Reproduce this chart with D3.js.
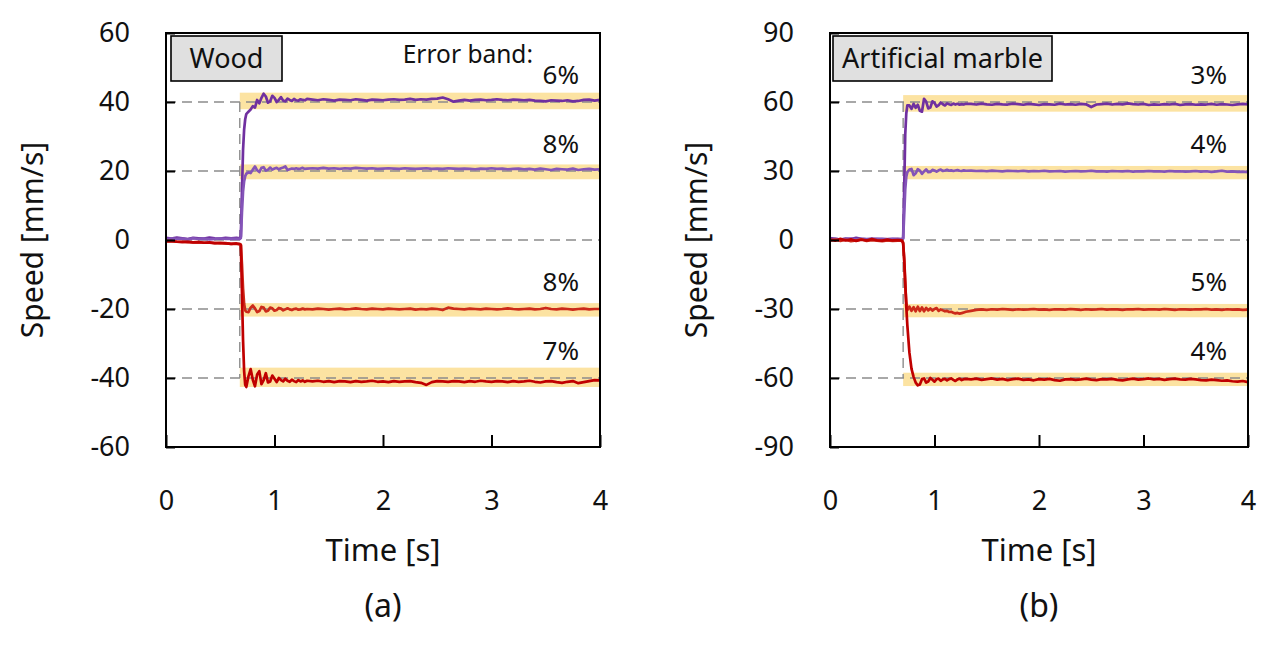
<!DOCTYPE html>
<html><head><meta charset="utf-8">
<script src="https://cdn.jsdelivr.net/npm/d3@7"></script>
<style>
html,body{margin:0;padding:0;background:#fff;}
svg{display:block;font-family:"Noto Sans","Open Sans",sans-serif;}
</style></head>
<body><svg id="chart" width="1280" height="651"></svg>
<script>
// ---------- DATA ----------
const time = [0,0.05,0.1,0.15,0.2,0.25,0.3,0.35,0.4,0.45,0.5,0.55,0.6,0.65,
  0.68,0.69,0.7,0.71,0.72,0.73,0.74,
  0.76,0.78,0.8,0.82,0.84,0.86,0.88,0.9,0.92,0.94,
  0.96,0.98,1,1.02,1.04,1.06,1.08,1.1,1.12,1.14,
  1.16,1.18,1.2,1.22,1.24,1.26,1.28,1.3,
  1.35,1.4,1.45,1.5,1.55,1.6,1.65,1.7,1.75,1.8,
  1.85,1.9,1.95,2,2.05,2.1,2.15,2.2,2.25,2.3,
  2.35,2.4,2.45,2.5,2.55,2.6,2.65,2.7,2.75,2.8,
  2.85,2.9,2.95,3,3.05,3.1,3.15,3.2,3.25,3.3,
  3.35,3.4,3.45,3.5,3.55,3.6,3.65,3.7,3.75,3.8,
  3.85,3.9,3.95,4];

// (a) Wood
const wood40 = [0.6,0.4,0.7,0.5,0.3,0.6,0.5,0.4,0.7,0.5,0.4,0.6,0.5,0.6,
  0.5,1.0,14,26,32,35,36.5,
  37.2,37.8,38.8,38.4,40.6,39.6,41.2,42.4,41.6,39.8,
  40.2,41.8,41.2,40.0,40.6,41.4,40.4,40.2,41.0,40.6,
  40.3,40.9,40.5,40.4,40.8,40.6,40.5,40.9,
  40.7,40.5,40.8,40.6,40.4,40.7,40.6,40.5,40.8,40.6,
  40.4,40.7,40.6,40.5,40.7,40.8,40.6,40.7,40.9,40.6,
  40.8,40.7,40.9,41.0,41.3,40.8,40.1,40.4,40.6,40.4,
  40.6,40.7,40.5,40.6,40.8,40.6,40.5,40.7,40.6,40.5,
  40.6,40.4,40.3,40.2,40.5,40.4,40.3,40.5,40.2,40.3,
  40.6,40.7,40.4,40.6];
const wood20 = [0.2,0.5,0.3,0.4,0.2,0.5,0.3,0.4,0.2,0.3,0.5,0.3,0.4,0.3,
  0.3,0.6,8,14,17,18.5,19.2,
  19.6,19.4,20.4,21.3,20.2,19.7,20.9,21.1,20.1,20.4,
  21.0,20.4,20.7,20.9,20.5,20.8,21.0,21.3,20.3,20.5,
  20.7,20.6,20.8,20.6,20.7,20.9,20.6,20.7,
  20.8,20.7,20.9,20.7,20.8,20.6,20.8,20.7,20.9,20.8,
  20.7,20.8,20.6,20.7,20.8,20.7,20.6,20.8,20.7,20.6,
  20.7,20.8,20.6,20.7,20.6,20.8,20.7,20.6,20.7,20.6,
  20.5,20.7,20.6,20.8,20.6,20.7,20.5,20.6,20.7,20.5,
  20.6,20.4,20.7,20.5,20.3,20.6,20.5,20.4,20.7,20.3,
  20.5,20.6,20.4,20.5];
const woodM20 = [-0.3,-0.4,-0.5,-0.5,-0.6,-0.7,-0.6,-0.8,-0.8,-0.9,-1.0,-0.9,-1.1,-1.1,
  -1.2,-1.3,-7,-14,-18.5,-20.4,-20.8,
  -20.9,-19.6,-19.0,-19.8,-20.9,-20.6,-19.4,-19.6,-20.7,-20.5,
  -19.6,-19.8,-20.5,-20.3,-19.7,-19.9,-20.4,-20.1,-19.8,-20.1,
  -20.3,-20.0,-19.9,-20.2,-20.1,-19.9,-20.1,-20.0,
  -20.1,-19.9,-20.0,-20.2,-20.0,-19.9,-20.1,-20.0,-19.8,-20.0,
  -20.1,-19.9,-20.0,-20.1,-19.9,-20.0,-20.1,-20.0,-19.9,-20.2,
  -20.0,-20.1,-19.9,-20.0,-20.3,-19.6,-19.9,-20.0,-20.1,-19.9,
  -20.0,-20.1,-19.9,-20.0,-20.1,-20.0,-19.8,-20.0,-20.1,-20.0,
  -19.9,-20.1,-20.0,-19.7,-20.0,-20.1,-19.9,-20.0,-20.2,-20.0,
  -19.9,-20.1,-20.0,-20.0];
const woodM40 = [-0.4,-0.3,-0.5,-0.6,-0.5,-0.7,-0.6,-0.8,-0.7,-0.9,-0.8,-1.0,-1.1,-1.0,
  -1.2,-1.5,-15,-29,-38,-42,-42.6,
  -39.5,-37.4,-40.5,-42.4,-39.0,-38.0,-41.8,-40.6,-38.6,-41.3,
  -41.0,-39.3,-40.2,-41.2,-40.0,-40.6,-41.0,-40.2,-40.8,-41.1,
  -40.5,-40.9,-41.2,-40.6,-41.0,-40.7,-41.1,-40.8,
  -41.0,-40.8,-41.1,-40.9,-41.2,-40.9,-41.0,-41.2,-40.9,-41.1,
  -41.0,-40.8,-41.1,-41.0,-41.2,-40.9,-41.1,-41.0,-40.9,-41.2,
  -41.4,-42.0,-41.2,-40.9,-41.0,-41.1,-40.9,-41.0,-41.2,-40.9,
  -41.1,-40.8,-41.0,-41.1,-40.9,-41.0,-41.2,-40.9,-41.1,-41.0,
  -40.8,-41.1,-41.3,-41.0,-40.9,-41.2,-41.4,-41.1,-40.9,-41.5,
  -41.2,-40.9,-40.6,-40.7];

// (b) Artificial marble
const marble60 = [0.8,0.5,0.2,0.6,0.4,0.9,0.5,0.3,0.6,0.4,0.5,0.3,0.4,0.5,
  0.4,0.5,0.9,22,46,55,58.5,
  58.5,57.0,59.2,57.5,58.8,56.2,55.8,61.4,60.2,57.2,
  57.6,60.3,59.6,58.0,58.6,59.8,59.0,58.5,59.4,59.0,
  58.7,59.3,58.9,59.2,58.8,59.1,58.9,59.2,
  59.2,58.9,59.3,59.0,58.8,59.2,59.0,58.9,59.3,59.1,
  58.8,59.2,59.0,58.7,59.1,59.0,58.8,59.3,58.9,59.1,
  58.8,59.2,59.0,57.8,58.9,59.1,59.3,58.9,59.2,59.0,
  59.4,59.1,58.9,59.2,58.7,59.0,58.8,59.1,58.9,59.2,
  58.7,59.0,59.1,58.8,59.0,58.9,59.2,58.8,59.1,58.9,
  58.7,59.0,59.2,59.0];
const marble30 = [0.3,0.5,0.2,0.4,0.6,0.3,0.5,0.4,0.2,0.5,0.3,0.4,0.5,0.3,
  0.3,0.4,0.6,11,22,27.5,29.5,
  30.6,30.9,28.2,29.0,30.8,30.2,28.8,29.8,30.7,29.5,
  29.6,30.5,30.2,29.7,30.3,30.6,30.0,30.2,30.5,30.1,
  30.3,30.0,30.2,30.4,30.1,30.0,30.3,30.1,
  30.2,30.0,30.1,29.9,30.2,30.0,29.8,30.1,30.0,29.9,
  30.1,29.8,30.0,29.9,30.1,29.8,29.9,30.0,29.7,29.9,
  30.0,29.8,29.9,30.1,29.8,29.9,29.7,30.0,29.9,29.8,
  30.0,29.7,29.9,29.8,30.0,29.8,29.9,29.7,30.0,29.8,
  29.9,29.7,29.8,30.0,29.7,29.9,29.6,29.8,30.1,29.7,
  29.8,29.6,29.7,29.5];
const marbleM30 = [-0.3,0.2,-0.4,0.1,-0.5,-0.2,0.3,-0.4,-0.1,-0.3,-0.5,-0.2,-0.4,-0.3,
  -0.3,-0.5,-1.0,-9,-20,-27,-30.5,
  -29.0,-30.8,-29.2,-31.0,-29.0,-30.9,-29.3,-31.0,-29.5,-30.6,
  -29.8,-30.7,-30.0,-29.6,-30.8,-30.2,-30.6,-31.0,-30.8,-31.3,
  -31.2,-31.6,-31.9,-31.7,-32.0,-31.8,-31.5,-31.2,
  -30.8,-30.4,-30.2,-30.4,-30.1,-30.3,-30.0,-30.2,-30.4,-30.1,
  -30.3,-30.2,-30.0,-30.3,-30.2,-30.4,-30.1,-30.2,-30.3,-30.0,
  -30.2,-30.4,-30.1,-30.3,-30.2,-30.0,-30.3,-30.1,-30.2,-30.4,
  -30.1,-30.2,-30.0,-30.3,-30.2,-30.1,-30.3,-30.0,-30.2,-30.4,
  -30.1,-30.2,-30.3,-30.1,-30.2,-30.0,-30.3,-30.2,-30.4,-30.1,
  -30.3,-30.2,-30.4,-30.3];
const marbleM60 = [0.2,-0.3,0.5,-0.2,0.3,-0.4,0.1,-0.2,0.4,-0.1,-0.3,0.2,-0.2,0.0,
  -0.2,-0.3,-1.5,-8,-18,-29,-37,
  -49,-56,-59.5,-62.0,-63.2,-62.8,-60.5,-60.2,-62.0,-61.5,
  -60.0,-60.8,-61.6,-60.5,-60.3,-61.2,-60.6,-60.4,-61.0,-60.5,
  -60.2,-60.8,-61.3,-60.6,-60.3,-60.9,-60.5,-60.4,
  -60.6,-60.3,-60.8,-60.5,-60.2,-60.7,-60.4,-60.9,-60.5,-60.3,
  -60.8,-60.6,-61.0,-60.5,-60.7,-60.4,-60.9,-61.2,-60.6,-60.5,
  -60.8,-60.6,-60.3,-60.7,-60.9,-60.5,-60.6,-60.4,-60.8,-61.0,
  -60.6,-60.3,-60.7,-60.5,-60.2,-60.6,-60.4,-60.8,-60.5,-60.3,
  -60.6,-60.7,-60.4,-60.6,-60.9,-61.0,-60.7,-60.9,-61.2,-61.0,
  -61.4,-61.6,-61.3,-61.8];

// targets, error bands and labels
const woodTargets = [40, 20, -20, -40];
const woodErrLabels = ["6%", "8%", "8%", "7%"];
const woodBandLo = [37.9, 17.6, -22.2, -42.6];
const woodBandHi = [42.7, 21.9, -18.3, -37.0];
const woodStep = 0.68;

const marbleTargets = [60, 30, -30, -60];
const marbleErrLabels = ["3%", "4%", "5%", "4%"];
const marbleBandLo = [55.8, 26.4, -33.6, -63.5];
const marbleBandHi = [63.0, 32.2, -27.8, -57.7];
const marbleStep = 0.70;

const woodYTicks = [-60, -40, -20, 0, 20, 40, 60];
const marbleYTicks = [-90, -60, -30, 0, 30, 60, 90];
const xTicks = [0, 1, 2, 3, 4];

const seriesColors = ["#7030A0", "#8454B8", "#CC2A1A", "#C00000"];

// ---------- DRAW ----------
const svg = d3.select("#chart");
const fmt = d => String(d);

function drawPanel(p) {
  const g = svg.append("g");
  const x = d3.scaleLinear().domain([0, 4]).range([p.left, p.right]);
  const y = d3.scaleLinear().domain(p.yDomain).range([p.bottom, p.top]);

  // error bands
  g.selectAll("rect.band").data(p.targets).enter().append("rect")
    .attr("class", "band")
    .attr("x", x(p.step))
    .attr("width", x(4) - x(p.step))
    .attr("y", (d, i) => y(p.bandHi[i]))
    .attr("height", (d, i) => y(p.bandLo[i]) - y(p.bandHi[i]))
    .attr("fill", "#FCE3A2");

  // dashed reference lines
  const levels = p.targets.concat([0]);
  g.selectAll("line.ref").data(levels).enter().append("line")
    .attr("x1", x(0)).attr("x2", x(4))
    .attr("y1", d => y(d)).attr("y2", d => y(d))
    .attr("stroke", "#8c8c8c").attr("stroke-width", 1.4)
    .attr("stroke-dasharray", "10,6");
  g.append("line")
    .attr("x1", x(p.step)).attr("x2", x(p.step))
    .attr("y1", y(d3.max(p.targets))).attr("y2", y(d3.min(p.targets)))
    .attr("stroke", "#8c8c8c").attr("stroke-width", 1.4)
    .attr("stroke-dasharray", "10,6");

  // series
  const line = d3.line().x((d, i) => x(time[i])).y(d => y(d));
  p.series.forEach((s, k) => {
    g.append("path").datum(s)
      .attr("d", line)
      .attr("fill", "none")
      .attr("stroke", seriesColors[k])
      .attr("stroke-width", 2.7)
      .attr("stroke-linejoin", "round");
  });

  // frame
  g.append("rect")
    .attr("x", p.left).attr("y", p.top)
    .attr("width", p.right - p.left).attr("height", p.bottom - p.top)
    .attr("fill", "none").attr("stroke", "#000").attr("stroke-width", 2);

  // axes
  const yAxis = d3.axisLeft(y).tickValues(p.yTicks).tickFormat(fmt).tickSize(-9).tickPadding(36);
  const ya = g.append("g").attr("transform", `translate(${p.left},0)`).call(yAxis);
  const xAxis = d3.axisBottom(x).tickValues(xTicks).tickFormat(fmt).tickSize(-12).tickPadding(44);
  const xa = g.append("g").attr("transform", `translate(0,${p.bottom})`).call(xAxis);
  [ya, xa].forEach(a => {
    a.select(".domain").remove();
    a.selectAll(".tick line").attr("stroke", "#000").attr("stroke-width", 2);
    a.selectAll(".tick text").attr("font-size", 27).attr("fill", "#111")
      .attr("font-family", "Noto Sans");
  });

  // percent labels
  g.selectAll("text.pct").data(p.errLabels).enter().append("text")
    .attr("x", p.right - 21)
    .attr("y", (d, i) => y(p.targets[i]) - 18)
    .attr("text-anchor", "end")
    .attr("font-size", 26).attr("fill", "#111")
    .text(d => d);

  // material label box
  g.append("rect")
    .attr("x", p.boxX).attr("y", p.top + 3)
    .attr("width", p.boxW).attr("height", 45)
    .attr("fill", "#E0E0E0").attr("stroke", "#000").attr("stroke-width", 1.6);
  g.append("text")
    .attr("x", p.boxX + p.boxW / 2).attr("y", p.top + 35)
    .attr("text-anchor", "middle").attr("font-size", 27).attr("fill", "#111")
    .text(p.material);

  // axis titles
  const cx = (p.left + p.right) / 2;
  g.append("text")
    .attr("transform", `translate(${p.left - 123},${(p.top + p.bottom) / 2}) rotate(-90)`)
    .attr("text-anchor", "middle").attr("font-size", 30).attr("fill", "#111")
    .text("Speed [mm/s]");
  g.append("text")
    .attr("x", cx).attr("y", 561)
    .attr("text-anchor", "middle").attr("font-size", 31).attr("fill", "#111")
    .text("Time [s]");
  g.append("text")
    .attr("x", cx).attr("y", 617)
    .attr("text-anchor", "middle").attr("font-size", 32).attr("fill", "#111")
    .text(p.tag);
  return g;
}

const gA = drawPanel({
  left: 166, right: 600, top: 33, bottom: 447,
  yDomain: [-60, 60], yTicks: woodYTicks,
  targets: woodTargets, bandLo: woodBandLo, bandHi: woodBandHi,
  errLabels: woodErrLabels, step: woodStep,
  series: [wood40, wood20, woodM20, woodM40],
  material: "Wood", boxX: 171, boxW: 111, tag: "(a)"
});
gA.append("text")
  .attr("x", 533).attr("y", 63)
  .attr("text-anchor", "end").attr("font-size", 24.5).attr("fill", "#111")
  .text("Error band:");

drawPanel({
  left: 830, right: 1248, top: 33, bottom: 447,
  yDomain: [-90, 90], yTicks: marbleYTicks,
  targets: marbleTargets, bandLo: marbleBandLo, bandHi: marbleBandHi,
  errLabels: marbleErrLabels, step: marbleStep,
  series: [marble60, marble30, marbleM30, marbleM60],
  material: "Artificial marble", boxX: 833, boxW: 219, tag: "(b)"
});
</script>
</body></html>
